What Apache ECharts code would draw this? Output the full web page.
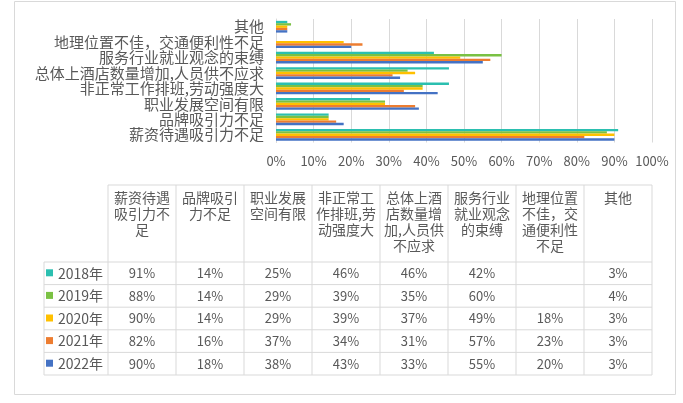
<!DOCTYPE html>
<html>
<head>
<meta charset="utf-8">
<script src="https://cdn.jsdelivr.net/npm/echarts@6/dist/echarts.min.js"></script>
<style>
	html, body { margin: 0; padding: 0; background: #fff; }
	#main { width: 683px; height: 403px; }
</style>
</head>
<body>
<div id="main"></div>
<script>
// 数据
var categories = ['薪资待遇吸引力不足', '品牌吸引力不足', '职业发展空间有限', '非正常工作排班,劳动强度大',
	'总体上酒店数量增加,人员供不应求', '服务行业就业观念的束缚', '地理位置不佳，交通便利性不足', '其他'];
var years = ['2018年', '2019年', '2020年', '2021年', '2022年'];
var colors = ['#2bbfb0', '#7ac143', '#ffc000', '#ed7d31', '#4472c4'];
var data2018 = [91, 14, 25, 46, 46, 42, null, 3];
var data2019 = [88, 14, 29, 39, 35, 60, null, 4];
var data2020 = [90, 14, 29, 39, 37, 49, 18, 3];
var data2021 = [82, 16, 37, 34, 31, 57, 23, 3];
var data2022 = [90, 18, 38, 43, 33, 55, 20, 3];
var xTicks = [0, 10, 20, 30, 40, 50, 60, 70, 80, 90, 100];

var seriesData = [data2018, data2019, data2020, data2021, data2022];
var textColor = '#595959';
var lineColor = '#d9d9d9';
var font = '"Microsoft YaHei", "Noto Sans CJK SC", sans-serif';

// 表格布局
var tblLeft = 44, colStart = 108, colW = 68, headTop = 185, headBottom = 262, rowH = 22.6;

function buildTable() {
	var els = [];
	var tblRight = colStart + colW * categories.length;
	var tblBottom = headBottom + rowH * years.length;
	// 外框
	els.push({ type: 'rect', shape: { x: 14.5, y: 1.5, width: 661, height: 393 },
		style: { fill: 'none', stroke: lineColor, lineWidth: 1 } });
	// 横线
	els.push({ type: 'line', shape: { x1: colStart, y1: headTop, x2: tblRight, y2: headTop },
		style: { stroke: lineColor, lineWidth: 1 } });
	for (var r = 0; r <= years.length; r++) {
		var y = headBottom + rowH * r;
		els.push({ type: 'line', shape: { x1: tblLeft, y1: y, x2: tblRight, y2: y },
			style: { stroke: lineColor, lineWidth: 1 } });
	}
	// 竖线
	els.push({ type: 'line', shape: { x1: tblLeft, y1: headBottom, x2: tblLeft, y2: tblBottom },
		style: { stroke: lineColor, lineWidth: 1 } });
	for (var c = 0; c <= categories.length; c++) {
		var x = colStart + colW * c;
		els.push({ type: 'line', shape: { x1: x, y1: headTop, x2: x, y2: tblBottom },
			style: { stroke: lineColor, lineWidth: 1 } });
	}
	// 表头
	categories.forEach(function(name, i) {
		els.push({ type: 'text', x: colStart + colW * i + colW / 2, y: headTop + 5,
			style: { text: name, width: 62, overflow: 'break', align: 'center', verticalAlign: 'top',
				lineHeight: 16, fontSize: 14, fontFamily: font, fill: textColor } });
	});
	// 数据行
	years.forEach(function(yr, r) {
		var cy = headBottom + rowH * r + rowH / 2;
		els.push({ type: 'rect', shape: { x: 46, y: cy - 4, width: 7, height: 7 },
			style: { fill: colors[r] } });
		els.push({ type: 'text', x: 58, y: cy,
			style: { text: yr, align: 'left', verticalAlign: 'middle', fontSize: 14,
				fontFamily: font, fill: textColor } });
		seriesData[r].forEach(function(v, i) {
			if (v == null) return;
			els.push({ type: 'text', x: colStart + colW * i + colW / 2, y: cy,
				style: { text: v + '%', align: 'center', verticalAlign: 'middle', fontSize: 13,
					fontFamily: font, fill: textColor } });
		});
	});
	return els;
}

var chart = echarts.init(document.getElementById('main'));
var series = [];
for (var k = 0; k < years.length; k++) {
	series.push({
		name: years[k],
		type: 'bar',
		data: seriesData[k],
		barGap: '0%',
		barCategoryGap: '24%',
		itemStyle: { color: colors[k] },
		animation: false
	});
}

chart.setOption({
	animation: false,
	textStyle: { fontFamily: font },
	grid: { left: 276, right: 31, top: 19, bottom: 260.5, containLabel: false },
	xAxis: {
		type: 'value',
		min: xTicks[0],
		max: xTicks[xTicks.length - 1],
		interval: 10,
		axisLine: { show: false },
		axisTick: { show: false },
		axisLabel: { color: textColor, fontSize: 13, margin: 12, formatter: '{value}%' },
		splitLine: { lineStyle: { color: lineColor, width: 1 } }
	},
	yAxis: {
		type: 'category',
		data: categories,
		axisLine: { show: true, lineStyle: { color: lineColor } },
		axisTick: { show: false },
		axisLabel: { color: textColor, fontSize: 15, margin: 12, lineHeight: 15, interval: 0, hideOverlap: false }
	},
	series: series,
	graphic: buildTable()
});
</script>
</body>
</html>
